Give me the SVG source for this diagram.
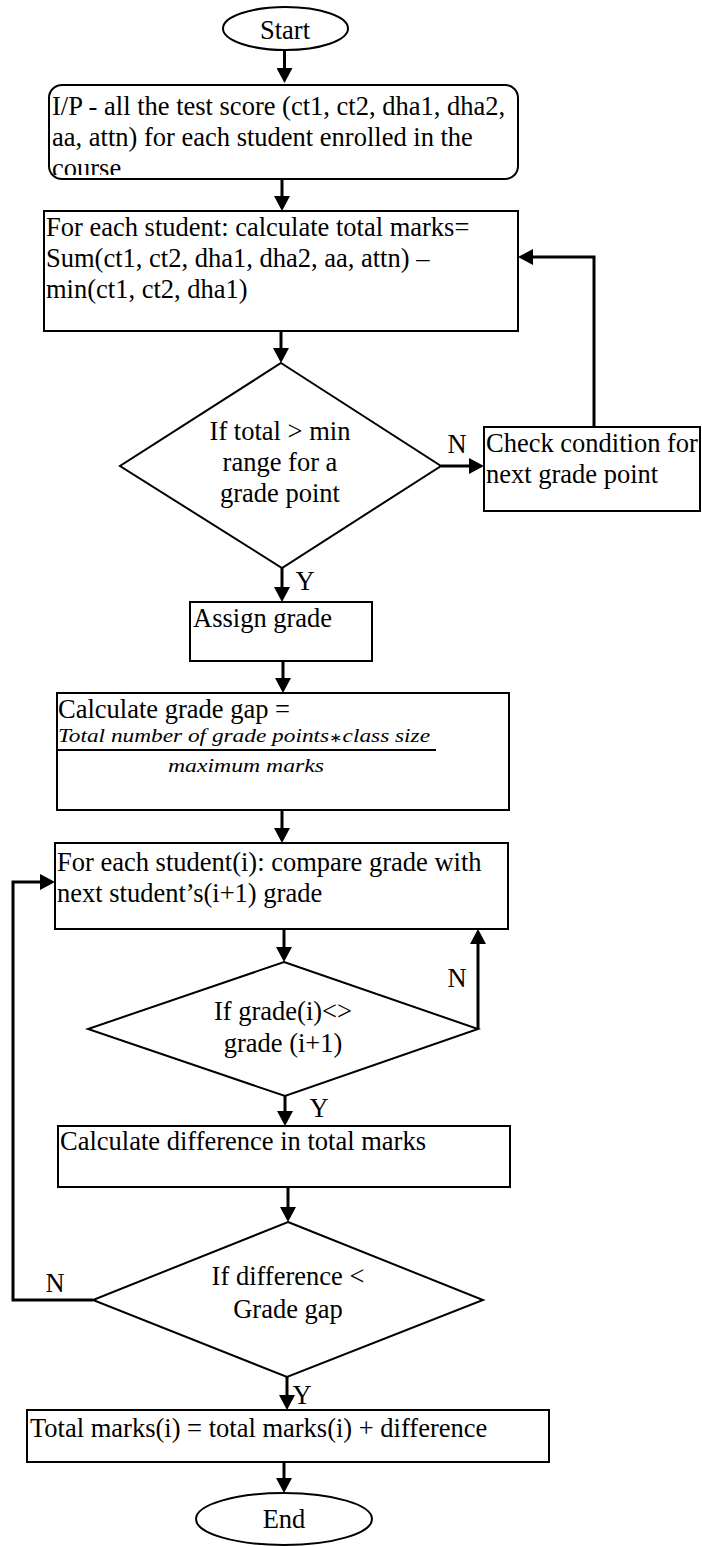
<svg xmlns="http://www.w3.org/2000/svg" width="702" height="1546" viewBox="0 0 702 1546">
<style>
.shape{fill:#fff;stroke:#000;stroke-width:2}
.conn{fill:none;stroke:#000;stroke-width:3}
.t{font-family:"Liberation Serif","Times New Roman",serif;font-size:26.5px;fill:#000}
.m{text-anchor:middle}
.math{font-family:"Liberation Serif","Times New Roman",serif;font-style:italic;font-size:19px;fill:#000}
</style>
<defs>
<marker id="ah" markerUnits="userSpaceOnUse" markerWidth="15" markerHeight="16" viewBox="0 0 15 16" refX="7" refY="8" orient="auto">
<path d="M0,0 L15,8 L0,16 z" fill="#000"/>
</marker>
<clipPath id="ipclip"><rect x="49" y="85" width="469" height="90"/></clipPath>
</defs>
<rect width="702" height="1546" fill="#fff"/>

<g id="connectors">
<path class="conn" marker-end="url(#ah)" d="M284.5,50 V75"/>
<path class="conn" marker-end="url(#ah)" d="M282,179 V203"/>
<path class="conn" marker-end="url(#ah)" d="M281,331 V355"/>
<path class="conn" marker-end="url(#ah)" d="M441,466 H476"/>
<path class="conn" marker-end="url(#ah)" d="M594,427 V257 H526"/>
<path class="conn" marker-end="url(#ah)" d="M282,568 V594"/>
<path class="conn" marker-end="url(#ah)" d="M283,661 V685"/>
<path class="conn" marker-end="url(#ah)" d="M282,810 V835"/>
<path class="conn" marker-end="url(#ah)" d="M284,929 V954"/>
<path class="conn" marker-end="url(#ah)" d="M478,1029 V937"/>
<path class="conn" marker-end="url(#ah)" d="M285,1096 V1118"/>
<path class="conn" marker-end="url(#ah)" d="M288,1187 V1214"/>
<path class="conn" marker-end="url(#ah)" d="M93,1300 H13 V882 H47"/>
<path class="conn" marker-end="url(#ah)" d="M287,1377 V1402"/>
<path class="conn" marker-end="url(#ah)" d="M284,1462 V1485"/>
<text class="t m" x="457" y="453">N</text>
<text class="t m" x="305" y="590">Y</text>
<text class="t m" x="457" y="987">N</text>
<text class="t m" x="319" y="1117">Y</text>
<text class="t m" x="55" y="1292">N</text>
<text class="t m" x="302" y="1404">Y</text>
</g>

<g id="start">
<ellipse class="shape" cx="285.5" cy="28.5" rx="62.5" ry="21.5"/>
<text class="t m" x="285" y="39">Start</text>
</g>

<g id="input">
<rect class="shape" x="49" y="85" width="469" height="94" rx="13"/>
<g clip-path="url(#ipclip)">
<text class="t" x="52" y="115">I/P - all the test score (ct1, ct2, dha1, dha2,</text>
<text class="t" x="52" y="146">aa, attn) for each student enrolled in the</text>
<text class="t" x="52" y="177">course</text>
</g>
</g>

<g id="calc-total">
<rect class="shape" x="44" y="211" width="474" height="120"/>
<text class="t" x="46" y="236">For each student: calculate total marks=</text>
<text class="t" x="46" y="267">Sum(ct1, ct2, dha1, dha2, aa, attn) –</text>
<text class="t" x="46" y="298">min(ct1, ct2, dha1)</text>
</g>

<g id="decision-grade">
<polygon class="shape" points="281,363 441,466 282,568 120,466"/>
<text class="t m" x="280" y="440">If total &gt; min</text>
<text class="t m" x="280" y="471">range for a</text>
<text class="t m" x="280" y="502">grade point</text>
</g>

<g id="check-next">
<rect class="shape" x="484" y="427" width="216" height="84"/>
<text class="t" x="486" y="452">Check condition for</text>
<text class="t" x="486" y="483">next grade point</text>
</g>

<g id="assign-grade">
<rect class="shape" x="190" y="602" width="182" height="59"/>
<text class="t" x="193" y="627">Assign grade</text>
</g>

<g id="grade-gap">
<rect class="shape" x="57" y="693" width="452" height="117"/>
<text class="t" x="58" y="718">Calculate grade gap =</text>
<text class="math" x="58" y="742" textLength="372" lengthAdjust="spacingAndGlyphs">Total number of  grade points<tspan font-size="13" font-style="normal">∗</tspan>class size</text>
<line x1="58" y1="750" x2="436" y2="750" stroke="#000" stroke-width="2"/>
<text class="math" x="168" y="772" textLength="156" lengthAdjust="spacingAndGlyphs">maximum marks</text>
</g>

<g id="compare-grade">
<rect class="shape" x="55" y="843" width="453" height="86"/>
<text class="t" x="57" y="871">For each student(i): compare grade with</text>
<text class="t" x="57" y="902">next student’s(i+1) grade</text>
</g>

<g id="decision-diff-grade">
<polygon class="shape" points="284,962 478,1029 285,1096 88,1029"/>
<text class="t m" x="283" y="1020">If grade(i)&lt;&gt;</text>
<text class="t m" x="283" y="1052">grade (i+1)</text>
</g>

<g id="calc-diff">
<rect class="shape" x="58" y="1126" width="452" height="61"/>
<text class="t" x="60" y="1150">Calculate difference in total marks</text>
</g>

<g id="decision-gap">
<polygon class="shape" points="288,1222 483,1300 287,1377 93,1300"/>
<text class="t m" x="288" y="1285">If difference &lt;</text>
<text class="t m" x="288" y="1318">Grade gap</text>
</g>

<g id="update-total">
<rect class="shape" x="27" y="1410" width="522" height="52"/>
<text class="t" x="30" y="1437">Total marks(i) = total marks(i) + difference</text>
</g>

<g id="end">
<ellipse class="shape" cx="284" cy="1519" rx="88" ry="26"/>
<text class="t m" x="284" y="1528">End</text>
</g>
</svg>
